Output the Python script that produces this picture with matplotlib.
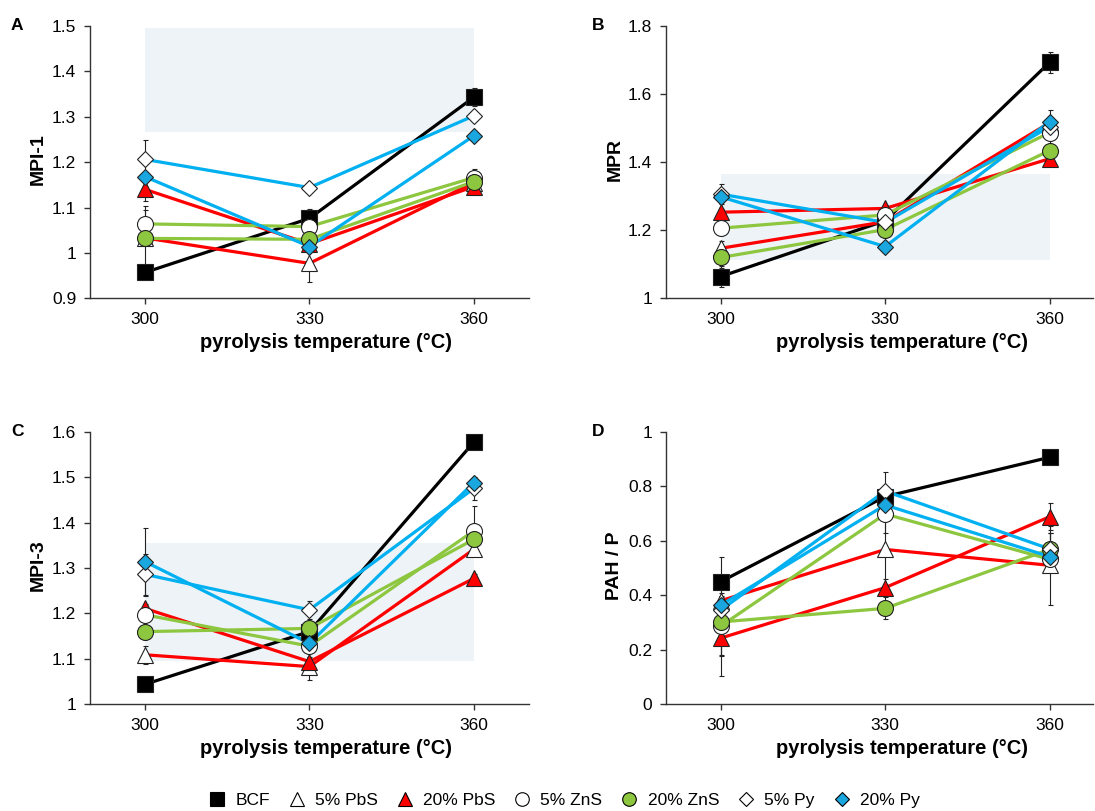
from matplotlib import pyplot as plt
from matplotlib.lines import Line2D
from matplotlib.ticker import FuncFormatter

plt.rcParams['font.family'] = ['Liberation Sans', 'DejaVu Sans']

# pyrolysis temperatures (x)
temps = [300, 330, 360]

series = ['BCF', '5% PbS', '20% PbS', '5% ZnS', '20% ZnS', '5% Py', '20% Py']

# one row per series, in the order above
mpi1 = [
    [0.957, 1.076, 1.343],
    [1.033, 0.977, 1.155],
    [1.140, 1.020, 1.146],
    [1.064, 1.058, 1.166],
    [1.032, 1.030, 1.157],
    [1.206, 1.144, 1.302],
    [1.168, 1.014, 1.258],
]
mpi1_err = [
    [0.0, 0.02, 0.02],
    [0.07, 0.04, 0.015],
    [0.025, 0.01, 0.01],
    [0.03, 0.01, 0.018],
    [0.01, 0.01, 0.01],
    [0.043, 0.005, 0.01],
    [0.01, 0.01, 0.01],
]

mpr = [
    [1.064, 1.228, 1.693],
    [1.147, 1.225, 1.516],
    [1.253, 1.264, 1.410],
    [1.206, 1.245, 1.487],
    [1.120, 1.202, 1.434],
    [1.306, 1.223, 1.504],
    [1.298, 1.152, 1.519],
]
mpr_err = [
    [0.03, 0.01, 0.03],
    [0.02, 0.01, 0.01],
    [0.01, 0.01, 0.01],
    [0.01, 0.01, 0.02],
    [0.03, 0.01, 0.01],
    [0.03, 0.01, 0.05],
    [0.01, 0.01, 0.01],
]

mpi3 = [
    [1.044, 1.160, 1.577],
    [1.109, 1.083, 1.341],
    [1.211, 1.094, 1.277],
    [1.197, 1.128, 1.382],
    [1.160, 1.167, 1.363],
    [1.286, 1.208, 1.475],
    [1.314, 1.134, 1.488],
]
mpi3_err = [
    [0.005, 0.01, 0.005],
    [0.02, 0.03, 0.015],
    [0.01, 0.01, 0.01],
    [0.01, 0.01, 0.055],
    [0.01, 0.01, 0.01],
    [0.045, 0.02, 0.025],
    [0.075, 0.01, 0.01],
]

pah_p = [
    [0.450, 0.762, 0.906],
    [0.380, 0.568, 0.510],
    [0.243, 0.428, 0.688],
    [0.287, 0.698, 0.532],
    [0.302, 0.352, 0.568],
    [0.346, 0.782, 0.570],
    [0.364, 0.731, 0.542],
]
pah_p_err = [
    [0.09, 0.02, 0.01],
    [0.03, 0.13, 0.145],
    [0.14, 0.03, 0.05],
    [0.11, 0.07, 0.03],
    [0.12, 0.04, 0.06],
    [0.03, 0.07, 0.06],
    [0.03, 0.03, 0.03],
]

# styles
RED = '#FF0000'
GREEN = '#8DC63F'
BLUE = '#00B0F0'
line_colors = ['black', RED, RED, GREEN, GREEN, BLUE, BLUE]
markers = ['s', '^', '^', 'o', 'o', 'D', 'D']
msizes = [11.5, 12, 12, 11.5, 11.5, 8.2, 8.2]
faces = ['black', 'white', RED, 'white', GREEN, 'white', '#1AA7E0']
SHADE = '#EEF3F8'


def draw_panel(ax, vals, errs, ylim, yticks, ylabel, shade, xmax):
    if shade is not None:
        ax.fill_between([300, 360], shade[0], shade[1], color=SHADE,
                        linewidth=0, zorder=0)
    for i in range(len(series)):
        ax.plot(temps, vals[i], color=line_colors[i], lw=2.3, zorder=2)
    for i in range(len(series)):
        ax.errorbar(temps, vals[i], yerr=errs[i], fmt='none', ecolor='#222222',
                    elinewidth=0.8, capsize=1.8, capthick=0.8, zorder=3)
        ax.plot(temps, vals[i], linestyle='none', marker=markers[i],
                ms=msizes[i], mfc=faces[i], mec='#222222', mew=0.8,
                zorder=4 + i)
    ax.set_xlim(290, xmax)
    ax.set_ylim(*ylim)
    ax.set_xticks(temps)
    ax.set_yticks(yticks)
    ax.yaxis.set_major_formatter(FuncFormatter(lambda v, p: '{:g}'.format(round(v, 3))))
    for s in ['top', 'right']:
        ax.spines[s].set_visible(False)
    for s in ['left', 'bottom']:
        ax.spines[s].set_color('#333333')
        ax.spines[s].set_linewidth(1.0)
    ax.tick_params(direction='out', length=4, width=1, color='#333333',
                   labelsize=12.5, pad=6)
    ax.set_ylabel(ylabel, fontsize=14, fontweight='bold')
    ax.yaxis.set_label_coords(-0.10, 0.51)
    ax.set_xlabel('pyrolysis temperature (°C)', fontsize=14.5,
                  fontweight='bold', va='top')
    ax.xaxis.set_label_coords((333 - 290) / (xmax - 290), -0.128)


W, H = 1095, 811
fig = plt.figure(figsize=(W / 100, H / 100), dpi=100)

ax_a = fig.add_axes([90.2 / W, 1 - 298.3 / H, 438.4 / W, 272.3 / H])
ax_b = fig.add_axes([666 / W, 1 - 298.3 / H, 427.4 / W, 272.3 / H])
ax_c = fig.add_axes([90.2 / W, 1 - 704.3 / H, 438.4 / W, 272.6 / H])
ax_d = fig.add_axes([666 / W, 1 - 704.3 / H, 427.4 / W, 272.6 / H])

draw_panel(ax_a, mpi1, mpi1_err, (0.9, 1.5), [0.9, 1.0, 1.1, 1.2, 1.3, 1.4, 1.5],
           'MPI-1', (1.267, 1.495), 370)
draw_panel(ax_b, mpr, mpr_err, (1.0, 1.8), [1.0, 1.2, 1.4, 1.6, 1.8],
           'MPR', (1.113, 1.365), 368)
draw_panel(ax_c, mpi3, mpi3_err, (1.0, 1.6), [1.0, 1.1, 1.2, 1.3, 1.4, 1.5, 1.6],
           'MPI-3', (1.095, 1.355), 370)
draw_panel(ax_d, pah_p, pah_p_err, (0.0, 1.0), [0.0, 0.2, 0.4, 0.6, 0.8, 1.0],
           'PAH / P', None, 368)

# panel letters
for letter, (x, y) in zip('ABCD', [(17, 25.5), (598, 25.5), (17, 431.5), (598, 431.5)]):
    fig.text(x / W, 1 - y / H, letter, fontsize=12.5, fontweight='bold',
             ha='center', va='center')

# legend
handles = []
for i in range(len(series)):
    handles.append(Line2D([], [], linestyle='none', marker=markers[i],
                          ms=msizes[i] * 0.85, mfc=faces[i], mec='black',
                          mew=0.8, label=series[i]))
fig.legend(handles=handles, loc='center', bbox_to_anchor=(0.5155, 0.0125),
           ncol=7, frameon=False, fontsize=12.5, handlelength=0.9,
           handletextpad=0.6, columnspacing=1.1, borderpad=0)

fig.savefig('out.png', dpi=100)
